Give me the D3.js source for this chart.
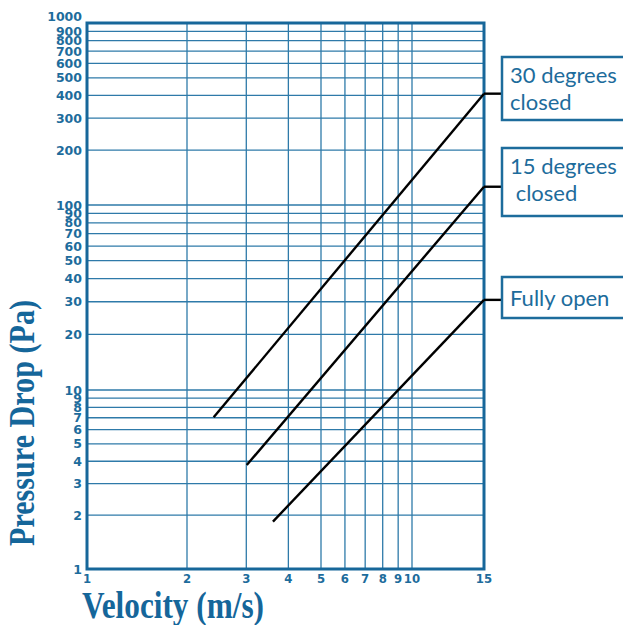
<!DOCTYPE html>
<html>
<head>
<meta charset="utf-8">
<script src="https://cdn.jsdelivr.net/npm/d3@7"></script>
<style>
  html, body { margin: 0; padding: 0; background: #fff; }
  svg { display: block; }
</style>
</head>
<body>
<svg id="chart" width="623" height="625"></svg>
<script>
// ---- data ----
const xTicks = [1, 2, 3, 4, 5, 6, 7, 8, 9, 10, 15];
const yTicks = [1, 2, 3, 4, 5, 6, 7, 8, 9, 10,
                20, 30, 40, 50, 60, 70, 80, 90, 100,
                200, 300, 400, 500, 600, 700, 800, 900, 1000];
const seriesNames = ["30 degrees closed", "15 degrees closed", "Fully open"];
const seriesLabels = [["30 degrees", "closed"], ["15 degrees", " closed"], ["Fully open"]];
const series30 = [[2.40, 7.04], [15, 409]];
const series15 = [[3.01, 3.81], [15, 126]];
const seriesOpen = [[3.60, 1.84], [15, 30.7]];
const xTitle = "Velocity (m/s)";
const yTitle = "Pressure Drop (Pa)";

// ---- layout ----
const blue = "#1d6c9c";
const gridBlue = "#2e7aa9";
const svg = d3.select("#chart");

const x = d3.scaleLog().domain([1, 2, 5, 10, 15]).range([87, 187, 321, 412, 484]);
const y = d3.scaleLog().domain([1, 10, 100, 1000]).range([569, 390, 205, 23]);

// grid
const g = svg.append("g");
g.selectAll("line.v").data(xTicks.slice(1, -1)).join("line")
  .attr("x1", d => x(d)).attr("x2", d => x(d))
  .attr("y1", y(1000)).attr("y2", y(1))
  .attr("stroke", gridBlue).attr("stroke-width", 1.3);
g.selectAll("line.h").data(yTicks.slice(1, -1)).join("line")
  .attr("y1", d => y(d)).attr("y2", d => y(d))
  .attr("x1", x(1)).attr("x2", x(15))
  .attr("stroke", gridBlue).attr("stroke-width", 1.3);

// frame
g.append("rect")
  .attr("x", x(1)).attr("y", y(1000))
  .attr("width", x(15) - x(1)).attr("height", y(1) - y(1000))
  .attr("fill", "none").attr("stroke", "#17679a").attr("stroke-width", 3);

// tick labels
const tickFont = "'DejaVu Sans', sans-serif";
svg.append("g").selectAll("text").data(yTicks).join("text")
  .attr("x", 82)
  .attr("y", d => y(d) + (d === 1000 ? -7 : 0))
  .attr("dy", "0.36em")
  .attr("text-anchor", "end")
  .attr("font-family", tickFont).attr("font-weight", "bold")
  .attr("font-size", 12.5).attr("fill", blue)
  .text(d => d);

svg.append("g").selectAll("text").data(xTicks).join("text")
  .attr("x", d => x(d)).attr("y", 583)
  .attr("text-anchor", "middle")
  .attr("font-family", "'DejaVu Sans Condensed', 'DejaVu Sans', sans-serif").attr("font-weight", "bold")
  .attr("font-size", 13).attr("fill", blue)
  .text(d => d);

// series lines
const allSeries = [series30, series15, seriesOpen];
const line = d3.line().x(d => x(d[0])).y(d => y(d[1]));
svg.append("g").selectAll("path").data(allSeries).join("path")
  .attr("d", line)
  .attr("fill", "none").attr("stroke", "#000").attr("stroke-width", 2.4);

// connectors + label boxes
const boxLeft = 502;
const boxes = [
  { top: 57, bottom: 120 },
  { top: 148, bottom: 216 },
  { top: 277, bottom: 318 }
];
const lg = svg.append("g");
allSeries.forEach((s, i) => {
  const end = s[s.length - 1];
  lg.append("line")
    .attr("x1", x(end[0])).attr("x2", boxLeft)
    .attr("y1", y(end[1])).attr("y2", y(end[1]))
    .attr("stroke", "#000").attr("stroke-width", 2.4);
  lg.append("rect")
    .attr("x", boxLeft).attr("y", boxes[i].top)
    .attr("width", 200).attr("height", boxes[i].bottom - boxes[i].top)
    .attr("fill", "#fff").attr("stroke", blue).attr("stroke-width", 2.5);
  const lines = seriesLabels[i];
  const t = lg.append("text")
    .attr("font-family", "Lato, sans-serif").attr("font-size", 22)
    .attr("fill", blue);
  lines.forEach((ln, j) => {
    t.append("tspan")
      .attr("x", 510)
      .attr("y", (lines.length === 1 ? boxes[i].top + 29 : boxes[i].top + 26 + j * 27))
      .style("white-space", "pre")
      .text(ln);
  });
});

// axis titles
svg.append("text")
  .attr("x", 82).attr("y", 618)
  .attr("font-family", "'Liberation Serif', serif").attr("font-weight", "bold")
  .attr("font-size", 37).attr("fill", "#15669a")
  .attr("textLength", 182).attr("lengthAdjust", "spacingAndGlyphs")
  .text(xTitle);

svg.append("text")
  .attr("transform", "translate(34,546) rotate(-90)")
  .attr("x", 0).attr("y", 0)
  .attr("font-family", "'Liberation Serif', serif").attr("font-weight", "bold")
  .attr("font-size", 36).attr("fill", "#15669a")
  .attr("textLength", 246).attr("lengthAdjust", "spacingAndGlyphs")
  .text(yTitle);
</script>
</body>
</html>
